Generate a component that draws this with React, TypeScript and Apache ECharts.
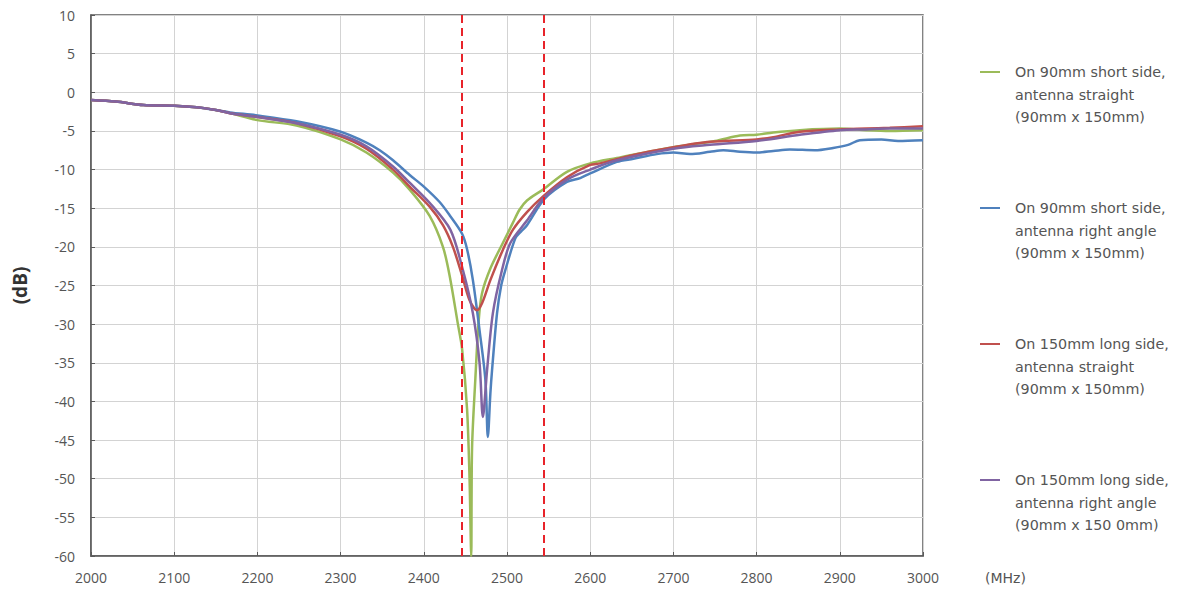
import React, { useEffect, useRef } from "react";
import * as echarts from "echarts";

const seriesNames = [
  "On 90mm short side,\nantenna straight\n(90mm x 150mm)",
  "On 90mm short side,\nantenna right angle\n(90mm x 150mm)",
  "On 150mm long side,\nantenna straight\n(90mm x 150mm)",
  "On 150mm long side,\nantenna right angle\n(90mm x 150 0mm)",
];
const seriesColors = ["#9bbb59", "#4f81bd", "#c0504d", "#8064a2"];

const greenFreq = [2000, 2030, 2063, 2100, 2127, 2150, 2167, 2200, 2247, 2300, 2331, 2363, 2383, 2407, 2423, 2431, 2441, 2446, 2452, 2455, 2457, 2458, 2462, 2466, 2470, 2480, 2495, 2507, 2515, 2524, 2543, 2572, 2600, 2632, 2650, 2700, 2750, 2780, 2800, 2820, 2852, 2900, 2932, 2960, 3000];
const greenDb = [-1.0, -1.2, -1.65, -1.75, -1.95, -2.3, -2.7, -3.6, -4.3, -6.1, -7.8, -10.4, -12.6, -16.0, -20.0, -23.7, -30.0, -33.2, -41.0, -50.0, -60.0, -46.0, -37.0, -29.5, -26.0, -22.8, -19.5, -16.9, -15.2, -14.0, -12.6, -10.3, -9.2, -8.5, -8.1, -7.1, -6.3, -5.6, -5.5, -5.2, -4.9, -4.7, -4.9, -5.0, -4.9];

const blueFreq = [2000, 2030, 2063, 2100, 2127, 2150, 2167, 2200, 2247, 2300, 2331, 2347, 2363, 2383, 2400, 2419, 2431, 2446, 2452, 2459, 2467, 2474, 2477, 2480, 2482, 2488, 2493, 2498, 2510, 2517, 2524, 2545, 2572, 2588, 2600, 2632, 2652, 2680, 2700, 2720, 2744, 2760, 2780, 2800, 2820, 2840, 2870, 2892, 2910, 2924, 2950, 2970, 3000];
const blueDb = [-1.0, -1.2, -1.65, -1.75, -1.95, -2.3, -2.6, -3.0, -3.75, -5.1, -6.5, -7.5, -8.8, -10.7, -12.2, -14.2, -15.9, -18.3, -20.3, -24.3, -30.8, -37.2, -44.6, -39.0, -36.0, -28.6, -25.0, -23.0, -18.9, -18.0, -17.2, -13.8, -11.6, -11.1, -10.5, -9.0, -8.6, -8.0, -7.8, -8.0, -7.7, -7.5, -7.7, -7.8, -7.6, -7.4, -7.5, -7.2, -6.8, -6.2, -6.1, -6.3, -6.2];

const redFreq = [2000, 2030, 2063, 2100, 2127, 2150, 2167, 2200, 2247, 2300, 2331, 2363, 2383, 2407, 2423, 2435, 2446, 2455, 2464, 2470, 2480, 2495, 2507, 2524, 2543, 2572, 2600, 2612, 2652, 2700, 2744, 2800, 2820, 2852, 2900, 2932, 2960, 3000];
const redDb = [-1.0, -1.2, -1.65, -1.75, -1.95, -2.3, -2.7, -3.2, -4.0, -5.7, -7.3, -10.0, -12.2, -14.8, -17.2, -20.0, -23.7, -26.9, -28.2, -27.3, -24.3, -20.4, -17.8, -15.5, -13.5, -11.0, -9.4, -9.2, -8.1, -7.1, -6.4, -6.1, -5.8, -5.1, -4.8, -4.7, -4.6, -4.4];

const purpleFreq = [2000, 2030, 2063, 2100, 2127, 2150, 2167, 2200, 2247, 2300, 2331, 2363, 2383, 2407, 2432, 2447, 2459, 2467, 2471, 2476, 2483, 2494, 2504, 2524, 2543, 2572, 2600, 2632, 2700, 2744, 2800, 2852, 2900, 2932, 2960, 3000];
const purpleDb = [-1.0, -1.2, -1.65, -1.75, -1.95, -2.3, -2.7, -3.2, -4.0, -5.5, -7.0, -9.6, -11.7, -14.3, -17.8, -23.0, -28.6, -35.0, -42.0, -36.0, -28.6, -23.0, -19.5, -16.6, -13.8, -11.3, -10.0, -8.8, -7.3, -6.8, -6.3, -5.5, -4.9, -4.8, -4.7, -4.7];

const bandEdges = [2446, 2544];

const freqs = [greenFreq, blueFreq, redFreq, purpleFreq];
const dbs = [greenDb, blueDb, redDb, purpleDb];

const FONT = "'Open Sans', 'DejaVu Sans', sans-serif";
const LEGEND_FONT = "'DejaVu Sans', sans-serif";

export default function App() {
  const ref = useRef<HTMLDivElement>(null);
  useEffect(() => {
    if (!ref.current) return;
    const chart = echarts.init(ref.current, undefined, { renderer: "svg" });

    const series: any[] = seriesNames.map((name, i) => ({
      name,
      type: "line",
      data: freqs[i].map((f, j) => [f, dbs[i][j]]),
      showSymbol: false,
      smooth: 0.3,
      lineStyle: { color: seriesColors[i], width: 2.5 },
      itemStyle: { color: seriesColors[i] },
      z: 3,
    }));
    series[0].markLine = {
      silent: true,
      symbol: "none",
      label: { show: false },
      lineStyle: { color: "#e8232a", width: 2, type: [8, 5] },
      data: bandEdges.map((x) => ({ xAxis: x })),
      z: 5,
    };

    const legendGraphics: any[] = [];
    seriesNames.forEach((name, i) => {
      const y0 = 72 + i * 136;
      legendGraphics.push({
        type: "line",
        shape: { x1: 980, y1: y0, x2: 1000, y2: y0 },
        style: { stroke: seriesColors[i], lineWidth: 2 },
      });
      legendGraphics.push({
        type: "text",
        x: 1015,
        y: y0 - 11,
        style: {
          text: name,
          font: `14.3px ${LEGEND_FONT}`,
          fill: "#555555",
          lineHeight: 22.5,
          textVerticalAlign: "top",
        },
      });
    });
    legendGraphics.push({
      type: "text",
      x: 985,
      y: 578,
      style: {
        text: "(MHz)",
        font: `14px ${LEGEND_FONT}`,
        fill: "#555555",
        textVerticalAlign: "middle",
      },
    });

    chart.setOption({
      animation: false,
      backgroundColor: "#ffffff",
      grid: {
        left: 91,
        right: 261,
        top: 15,
        bottom: 35,
        show: true,
        borderColor: "#5a5a5a",
        borderWidth: 1.5,
        backgroundColor: "#ffffff",
      },
      xAxis: {
        type: "value",
        min: 2000,
        max: 3000,
        interval: 100,
        axisLine: { show: true, onZero: false, lineStyle: { color: "#5a5a5a", width: 1.5 } },
        axisTick: { show: true, inside: true, length: 4, lineStyle: { color: "#5a5a5a" } },
        axisLabel: {
          color: "#555555",
          fontSize: 14,
          fontFamily: FONT,
          margin: 14,
          formatter: (v: number) => String(v),
        },
        splitLine: { show: true, lineStyle: { color: "#d3d3d3", width: 1 } },
      },
      yAxis: {
        type: "value",
        min: -60,
        max: 10,
        interval: 5,
        name: "(dB)",
        nameLocation: "middle",
        nameGap: 62,
        nameRotate: 90,
        nameTextStyle: { color: "#333333", fontSize: 19, fontWeight: "bold", fontFamily: FONT },
        axisLine: { show: true, onZero: false, lineStyle: { color: "#5a5a5a", width: 1.5 } },
        axisTick: { show: true, inside: true, length: 4, lineStyle: { color: "#5a5a5a" } },
        axisLabel: {
          color: "#555555",
          fontSize: 14,
          fontFamily: FONT,
          margin: 16,
          formatter: (v: number) => String(v),
        },
        splitLine: { show: true, lineStyle: { color: "#d3d3d3", width: 1 } },
      },
      graphic: legendGraphics,
      series,
    });
    return () => chart.dispose();
  }, []);
  return (
    <div
      ref={ref}
      style={{ position: "absolute", left: 0, top: 0, width: 1184, height: 591, background: "#fff" }}
    />
  );
}
